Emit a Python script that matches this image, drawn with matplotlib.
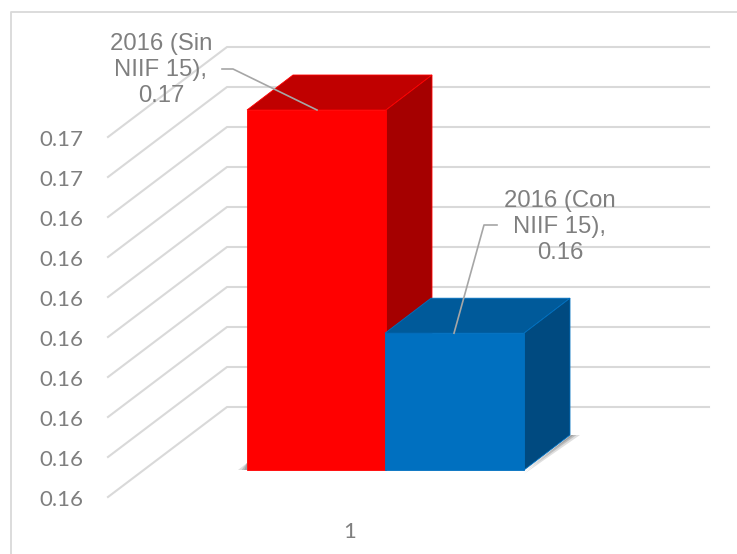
import matplotlib
matplotlib.use('Agg')
from matplotlib import pyplot as plt
from matplotlib.patches import Polygon

# chart values
tick_values = [0.1575, 0.1585, 0.1595, 0.1605, 0.1615, 0.1625, 0.1635, 0.1645, 0.1655, 0.1665]
bar_values = [0.1665, 0.16092]
bar_names = ['2016 (Sin\nNIIF 15),\n0.17', '2016 (Con\nNIIF 15),\n0.16']
category = '1'

GREY = '#7f7f7f'
GRID = '#d9d9d9'
PX = 0.001 / 40   # value per pixel


def shift(px):
    return px * PX


fig = plt.figure(figsize=(7.37, 5.54), dpi=100)
ax = fig.add_axes([0, 0, 1, 1])
ax.set_xlim(0, 737)
ax.set_ylim(tick_values[0] - shift(57), tick_values[0] + shift(497))
ax.axis('off')

# chart frame
ax.plot([11, 11, 737], [tick_values[0] - shift(57), tick_values[0] + shift(485), tick_values[0] + shift(485)],
        color=GRID, lw=1.3, zorder=1)

# gridlines on floor side and back wall
for v in tick_values:
    ax.plot([108, 227, 709], [v, v + shift(90), v + shift(90)], color=GRID, lw=1.5, zorder=1)
    ax.text(61, v - shift(1), '%.2f' % v, color=GREY, fontsize=16, family='Lato',
            ha='center', va='center_baseline', zorder=5)

floor = tick_values[0] + shift(27)
dx, dy = 46, shift(35)
lefts = [247, 385]
width = 139
fronts = ['#ff0000', '#0070c0']
tops = ['#c00000', '#005a9a']
sides = ['#a50000', '#004a80']
edges = ['#ff0000', '#0070c0']

# soft shadow under the bars
for grow, alpha in [(1.0, 0.25), (0.6, 0.35), (0.3, 0.45)]:
    ax.add_patch(Polygon([(247 - 9 * grow, floor), (247, floor + shift(7)), (247, floor)],
                         color='#808080', alpha=alpha, lw=0, zorder=2))
    ax.add_patch(Polygon([(524, floor - shift(4 * grow)), (571 + 9 * grow, floor + dy), (571, floor + dy)],
                         color='#808080', alpha=alpha, lw=0, zorder=2))

for i, val in enumerate(bar_values):
    x0, x1 = lefts[i], lefts[i] + width
    z = 3 + i
    ax.bar(x0, val - tick_values[0], width=width, bottom=floor, align='edge',
           color=fronts[i], edgecolor=edges[i], lw=0.6, zorder=z + 0.2)
    top = floor + val - tick_values[0]
    ax.add_patch(Polygon([(x0, top), (x0 + dx, top + dy), (x1 + dx, top + dy), (x1, top)],
                         facecolor=tops[i], edgecolor=edges[i], lw=0.6, zorder=z))
    ax.add_patch(Polygon([(x1, top), (x1 + dx, top + dy), (x1 + dx, floor + dy), (x1, floor)],
                         facecolor=sides[i], edgecolor=edges[i], lw=0.6, zorder=z))

# data labels with leader lines
top_red = floor + bar_values[0] - tick_values[0]
top_blue = floor + bar_values[1] - tick_values[0]
ax.plot([222, 233, 317], [tick_values[0] + shift(428), tick_values[0] + shift(428), top_red],
        color='#a6a6a6', lw=1.2, zorder=6)
ax.plot([497, 484, 454], [tick_values[0] + shift(272), tick_values[0] + shift(272), top_blue],
        color='#a6a6a6', lw=1.2, zorder=6)
ax.text(161, tick_values[0] + shift(427), bar_names[0], color=GREY, fontsize=17.2, family='Liberation Sans',
        ha='center', va='center', linespacing=1.26, zorder=7)
ax.text(560, tick_values[0] + shift(270), bar_names[1], color=GREY, fontsize=17.2, family='Liberation Sans',
        ha='center', va='center', linespacing=1.26, zorder=7)

ax.text(350, tick_values[0] - shift(33), category, color=GREY, fontsize=16, family='Lato',
        ha='center', va='center_baseline')

fig.savefig('out.png', dpi=100)
